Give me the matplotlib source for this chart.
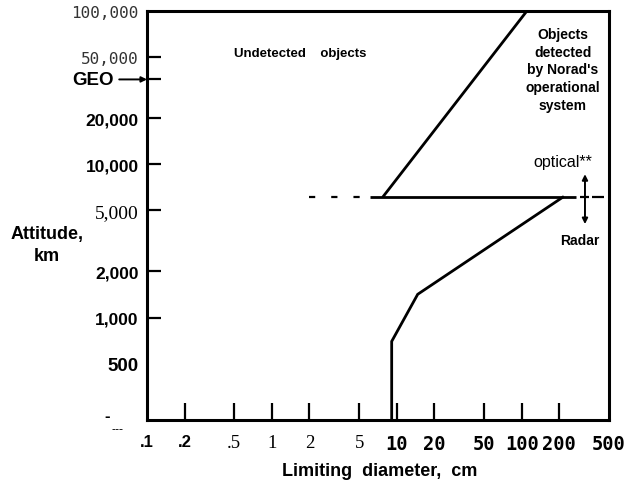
import matplotlib
matplotlib.use("Agg")
import matplotlib.pyplot as plt

# boundaries (diameter in cm, altitude in km)
optical_x = [7.7, 110]
optical_y = [6100, 100000]
split_x = [6.1, 270]
split_y = [6100, 6100]
radar_x = [213, 14.7, 9.1, 9.1]
radar_y = [6100, 1420, 700, 200]
dash_left_x = [2.0, 5.6]
dash_right_x = [270, 500]
geo_alt = 35786

xticks = [0.1, 0.2, 0.5, 1, 2, 5, 10, 20, 50, 100, 200, 500]
xlabels = [".1", ".2", ".5", "1", "2", "5", "10", "20", "50", "100", "200", "500"]
yticks = [500, 1000, 2000, 5000, 10000, 20000, geo_alt, 50000, 100000]
ylabels = ["500", "1,000", "2,000", "5,000", "10,000", "20,000", "", "50,000", "100,000"]

fig = plt.figure(figsize=(6.32, 4.85), dpi=100)
ax = fig.add_axes([147 / 632, 1 - 421 / 485, 462 / 632, 409 / 485])
ax.set_xscale("log")
ax.set_yscale("log")
ax.set_xlim(0.1, 500)
ax.set_ylim(215, 100000)
ax.minorticks_off()

for s in ax.spines.values():
    s.set_linewidth(2.2)

ax.plot(optical_x, optical_y, color="black", lw=2, solid_capstyle="butt")
ax.plot(split_x, split_y, color="black", lw=2, solid_capstyle="butt")
ax.plot(radar_x, radar_y, color="black", lw=2, solid_joinstyle="miter")
ax.plot(dash_left_x, [6100, 6100], color="black", lw=1.6, linestyle=(0, (2.8, 7.2)))
ax.plot(dash_right_x, [6100, 6100], color="black", lw=1.6,
        linestyle=(10.8, (4.05, 1.35, 5.4, 1.8)))

ax.set_xticks(xticks)
ax.set_xticklabels(xlabels)
ax.set_yticks(yticks)
ax.set_yticklabels(ylabels)
ax.tick_params(axis="x", direction="in", length=12, width=1.6, pad=10)
ax.tick_params(axis="y", direction="in", length=10, width=1.6, pad=6)

xfonts = [("Liberation Sans", "bold", 12)] * 2 + [("Liberation Serif", "normal", 13.5)] * 4 \
    + [("DejaVu Sans Mono", "bold", 13.5)] * 6
for lab, (fam, w, sz) in zip(ax.get_xticklabels(), xfonts):
    lab.set_fontfamily(fam)
    lab.set_fontweight(w)
    lab.set_fontsize(sz)
yfonts = [("Liberation Sans", "bold", 13.5),
          ("Liberation Sans", "bold", 12.5), ("Liberation Sans", "bold", 12.5),
          ("Liberation Serif", "normal", 14), ("Liberation Sans", "bold", 12.5),
          ("Liberation Sans", "bold", 12.5), ("Liberation Sans", "bold", 12),
          ("DejaVu Sans Mono", "normal", 11.5), ("DejaVu Sans Mono", "normal", 11.5)]
for lab, (fam, w, sz) in zip(ax.get_yticklabels(), yfonts):
    lab.set_fontfamily(fam)
    lab.set_fontweight(w)
    lab.set_fontsize(sz)
    if fam == "DejaVu Sans Mono":
        lab.set_color("#333333")

# hide tick marks that sit on the frame or are missing in the scan
for t in ax.xaxis.get_major_ticks():
    if t.get_loc() in (0.1, 500):
        t.tick1line.set_visible(False)
for t in ax.yaxis.get_major_ticks():
    if t.get_loc() in (500, 100000):
        t.tick1line.set_visible(False)

ax.annotate("GEO", xy=(0, geo_alt), xycoords=ax.get_yaxis_transform(),
            xytext=(-24, 0), textcoords="offset points", ha="right", va="center",
            fontsize=13.5, fontweight="bold", family="Liberation Sans",
            arrowprops=dict(arrowstyle="-|>", color="black", lw=1.4,
                            mutation_scale=8, shrinkA=2, shrinkB=0))

ax.text(-0.087, 0.012, "-", transform=ax.transAxes, ha="center", va="center",
        fontsize=12, fontweight="bold", family="Liberation Sans")
ax.text(-0.063, -0.022, "---", transform=ax.transAxes, ha="center", va="center",
        fontsize=9, family="Liberation Sans")

bold = dict(family="Liberation Sans", fontweight="bold")
ax.text(0.331, 0.897, "Undetected    objects", transform=ax.transAxes,
        ha="center", va="center", fontsize=9.5, **bold)
ax.text(0.900, 0.857, "Objects\ndetected\nby Norad's\noperational\nsystem",
        transform=ax.transAxes, ha="center", va="center", fontsize=10,
        linespacing=1.33, **bold)
ax.text(0.900, 0.633, "optical**", transform=ax.transAxes, ha="center",
        va="center", fontsize=11.5, family="Liberation Sans")
ax.text(0.937, 0.440, "Radar", transform=ax.transAxes, ha="center",
        va="center", fontsize=10, **bold)
ax.annotate("", xy=(0.948, 0.601), xytext=(0.948, 0.479), xycoords="axes fraction",
            arrowprops=dict(arrowstyle="<|-|>", color="black", lw=1.4,
                            mutation_scale=8, shrinkA=0, shrinkB=0))

ax.set_xlabel("Limiting  diameter,  cm", fontsize=13, **bold)
ax.xaxis.set_label_coords(0.504, -0.103)
ax.set_ylabel("Attitude,\nkm", rotation=0, fontsize=13, ha="center", va="center",
              linespacing=1.4, **bold)
ax.yaxis.set_label_coords(-0.216, 0.430)

fig.savefig("out.png", dpi=100)
